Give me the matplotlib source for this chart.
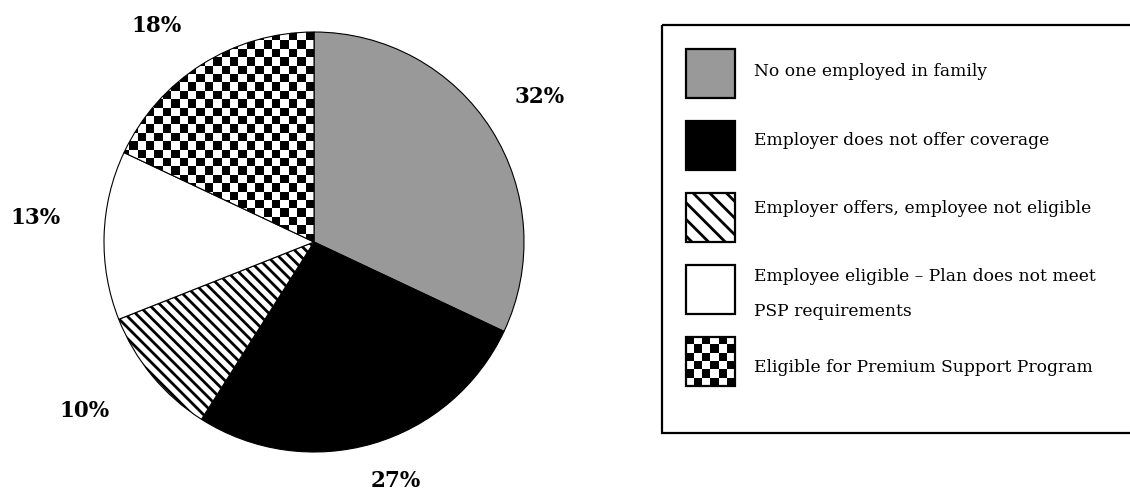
import numpy as np
import matplotlib
matplotlib.use("Agg")
import matplotlib.pyplot as plt
from matplotlib.patches import Rectangle

# Coverage status shares (percent)
categories = [
    "No one employed in family",
    "Employer does not offer coverage",
    "Employer offers, employee not eligible",
    "Employee eligible \u2013 Plan does not meet\nPSP requirements",
    "Eligible for Premium Support Program",
]
shares = [32, 27, 10, 13, 18]

colors = ["#999999", "#000000", "#ffffff", "#ffffff", "#ffffff"]
pie_hatches = [None, None, "\\\\\\", None, None]
key_hatches = [None, None, "\\\\", None, None]
checker_index = 4

W, H = 1130, 494
plt.rcParams["hatch.linewidth"] = 2.0
plt.rcParams["hatch.color"] = "black"

fig = plt.figure(figsize=(W / 100, H / 100), dpi=100)

# Pie axes: centre at (314, 242) px, radius 210 px
R_PX = 210
HALF = 215
cx, cy = 314, 242
ax = fig.add_axes([(cx - HALF) / W, (H - cy - HALF) / H, 2 * HALF / W, 2 * HALF / H])

wedges, _ = ax.pie(
    shares, colors=colors, startangle=90, counterclock=False,
    wedgeprops=dict(edgecolor="black", linewidth=0.8),
)
for w, h in zip(wedges, pie_hatches):
    if h:
        w.set_hatch(h)
lim = HALF / R_PX


def checker(n):
    i, j = np.indices((n, n))
    return ((i + j) % 2).astype(float)


# Checkerboard fill for the last wedge
cell = 8.4 / R_PX
n = int(np.ceil(lim / cell)) + 1
img = ax.imshow(checker(n), cmap="gray", vmin=0, vmax=1, interpolation="nearest",
                extent=(-n * cell, 0, 0, n * cell), origin="lower", zorder=1.5)
img.set_clip_path(wedges[checker_index])
wedges[checker_index].set_zorder(2)
wedges[checker_index].set_facecolor("none")
ax.set_xlim(-lim, lim)
ax.set_ylim(-lim, lim)
ax.set_aspect("equal")
ax.axis("off")

# Percentage labels (pixel positions of label centres)
label_px = [(540, 97), (396, 481), (85, 411), (36, 218), (157, 26)]
for v, (px, py) in zip(shares, label_px):
    ax.text((px - cx) / R_PX, (cy - py) / R_PX, f"{v}%", ha="center", va="center",
            fontsize=15.5, fontweight="bold", family="DejaVu Serif")

# Legend drawn in a pixel-space overlay
lax = fig.add_axes([0, 0, 1, 1])
lax.axis("off")
lax.add_patch(Rectangle((662, 25), 480, 408, fill=False, edgecolor="black", linewidth=1.6))

sw_x, sw_size = 686, 49
sw_tops = [49, 121, 193, 265, 337]
text_y = [72, 140, 208, 276, 367]
for k, (lab, top, ty) in enumerate(zip(categories, sw_tops, text_y)):
    rect = Rectangle((sw_x, top), sw_size, sw_size, facecolor=colors[k],
                     edgecolor="black", linewidth=1.6, hatch=key_hatches[k], zorder=3)
    lax.add_patch(rect)
    if k == checker_index:
        rect.set_facecolor("none")
        m = 6
        sw_img = lax.imshow(checker(m), cmap="gray", vmin=0, vmax=1,
                            interpolation="nearest",
                            extent=(sw_x, sw_x + sw_size, top + sw_size, top),
                            zorder=2)
        sw_img.set_clip_path(rect)
    lines = lab.split("\n")
    for li, line in enumerate(lines):
        lax.text(754, ty + li * 35, line, ha="left", va="center",
                 fontsize=12.3, family="DejaVu Serif")
lax.set_xlim(0, W)
lax.set_ylim(H, 0)
lax.set_aspect("auto")

fig.savefig("out.png", dpi=100, facecolor="white")
